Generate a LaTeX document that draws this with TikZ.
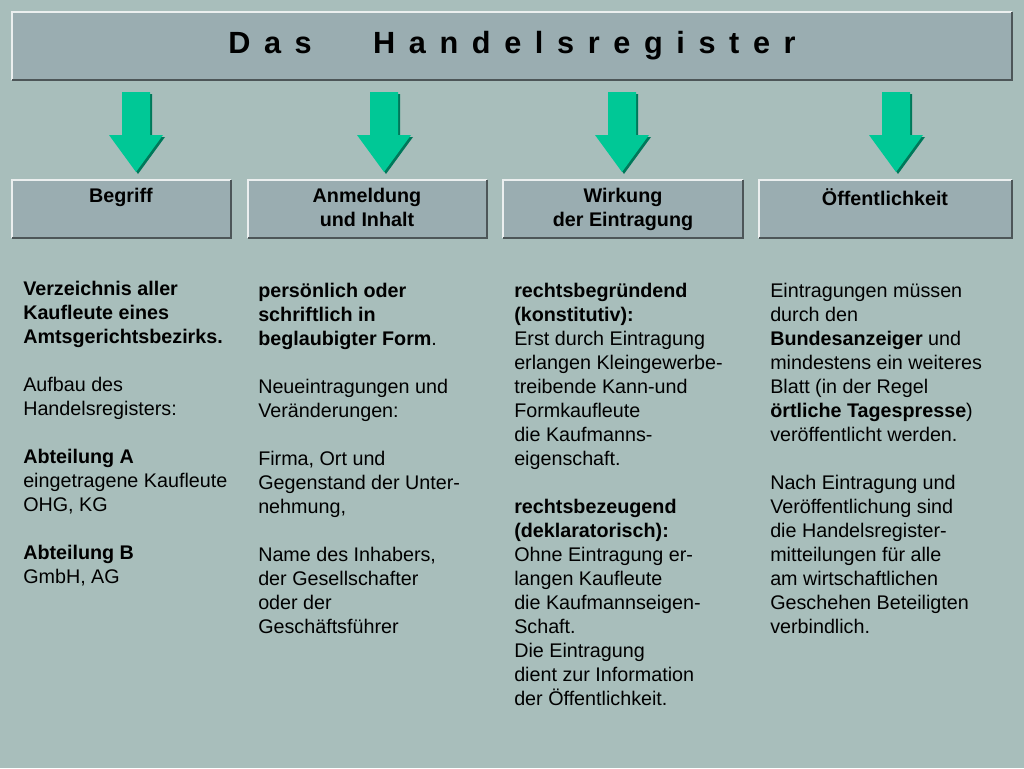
\documentclass[tikz,border=0pt]{standalone}
\usepackage{fontspec}
\setmainfont{Liberation Sans}
\begin{document}
\begin{tikzpicture}[x=0.75pt,y=-0.75pt,
  txt/.style={anchor=north west,align=left,font=\fontsize{14.8}{18}\selectfont,inner sep=0pt},
  lab/.style={anchor=north,align=center,font=\bfseries\fontsize{14.8}{18}\selectfont,inner sep=0pt}]
\definecolor{bg}{HTML}{A8BEBB}
\definecolor{boxc}{HTML}{9AADB1}
\definecolor{grn}{HTML}{00C896}
\fill[bg] (0,0) rectangle (1024,768);
\useasboundingbox (0,0) rectangle (1024,768);
\newcommand{\pbox}[5]{%
 \fill[boxc] (#1,#2) rectangle (#3,#4);
 \draw[white!80!boxc,line width=1pt] (#1,#4) -- (#1,#2) -- (#3,#2);
 \draw[black!50!boxc,line width=2pt] (#1,#4) -- (#3,#4) -- (#3,#2);
 \node[inner sep=0pt] (#5) at ({(#1+#3)/2},{(#2+#4)/2}) {};}
\pbox{12}{12}{1012}{80}{title}
\node at (title) {\bfseries\fontsize{23}{27}\selectfont D\;\,a\;\,s\qquad H\;\,a\;\,n\;\,d\;\,e\;\,l\;\,s\;\,r\;\,e\;\,g\;\,i\;\,s\;\,t\;\,e\;\,r};
\foreach \a/\b/\n in {12/231/b1,248/487/b2,503/743/b3,759/1012/b4}{\pbox{\a}{180}{\b}{238}{\n}}
\foreach \c in {136,384,622,896}{
 \fill[black!40!grn] (\c-12,94)--(\c+16,94)--(\c+16,137)--(\c+29,137)--(\c+2,174)--(\c-24,137)--(\c-12,137)--cycle;
 \fill[grn] (\c-14,92)--(\c+14,92)--(\c+14,135)--(\c+27,135)--(\c,172)--(\c-27,135)--(\c-14,135)--cycle;}
\node[lab] (l1) at (121,188) {Begriff};
\node[lab] (l2) at (367,188) {Anmeldung\\und Inhalt};
\node[lab] (l3) at (623,188) {Wirkung\\der Eintragung};
\node[lab] (l4) at (885,188) {Öffentlichkeit};
\node[txt] (t1) at (23,281) {\textbf{Verzeichnis aller}\\\textbf{Kaufleute eines}\\\textbf{Amtsgerichtsbezirks.}\\[18pt]Aufbau des\\Handelsregisters:\\[18pt]\textbf{Abteilung A}\\eingetragene Kaufleute\\OHG, KG\\[18pt]\textbf{Abteilung B}\\GmbH, AG};
\node[txt] (t2) at (258,283) {\textbf{persönlich oder}\\\textbf{schriftlich in}\\\textbf{beglaubigter Form}.\\[18pt]Neueintragungen und\\Veränderungen:\\[18pt]Firma, Ort und\\Gegenstand der Unter-\\nehmung,\\[18pt]Name des Inhabers,\\der Gesellschafter\\oder der\\Geschäftsführer};
\node[txt] (t3) at (514,283) {\textbf{rechtsbegründend}\\\textbf{(konstitutiv):}\\Erst durch Eintragung\\erlangen Kleingewerbe-\\treibende Kann-und\\Formkaufleute\\die Kaufmanns-\\eigenschaft.\\[18pt]\textbf{rechtsbezeugend}\\\textbf{(deklaratorisch):}\\Ohne Eintragung er-\\langen Kaufleute\\die Kaufmannseigen-\\Schaft.\\Die Eintragung\\dient zur Information\\der Öffentlichkeit.};
\node[txt] (t4) at (770,283) {Eintragungen müssen\\durch den\\\textbf{Bundesanzeiger} und\\mindestens ein weiteres\\Blatt (in der Regel\\\textbf{örtliche Tagespresse})\\veröffentlicht werden.\\[18pt]Nach Eintragung und\\Veröffentlichung sind\\die Handelsregister-\\mitteilungen für alle\\am wirtschaftlichen\\Geschehen Beteiligten\\verbindlich.};
\end{tikzpicture}
\end{document}
